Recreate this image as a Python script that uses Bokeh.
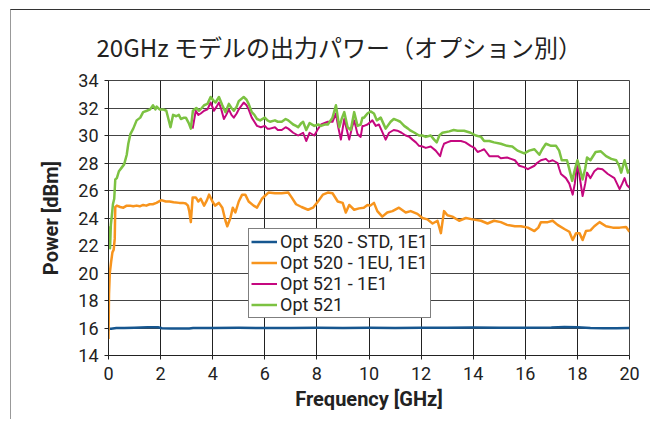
from bokeh.plotting import figure
from bokeh.models import Legend, LegendItem, FixedTicker, Range1d
from bokeh.embed import file_html
from bokeh.resources import INLINE

title_text = "20GHz モデルの出力パワー（オプション別）"
x_label = "Frequency [GHz]"
y_label = "Power [dBm]"
x_ticks = [0, 2, 4, 6, 8, 10, 12, 14, 16, 18, 20]
y_ticks = [14, 16, 18, 20, 22, 24, 26, 28, 30, 32, 34]

series_names = ["Opt 520 - STD, 1E1", "Opt 520 - 1EU, 1E1", "Opt 521 - 1E1", "Opt 521"]

blue_f = [0.00, 0.03, 0.10, 0.30, 0.60, 1.00, 1.50, 1.90, 2.05, 2.40, 2.80, 3.10, 3.25, 4.00, 5.00, 6.00,
          7.00, 8.00, 9.00, 10.00, 11.00, 12.00, 13.00, 14.00, 15.00, 16.00, 17.00, 17.50, 18.00,
          18.50, 19.00, 19.50, 20.00]
blue_v = [15.85, 15.95, 15.95, 16.0, 16.0, 16.02, 16.05, 16.06, 15.98, 15.97, 15.97, 15.96, 16.0, 16.0,
          16.01, 16.0, 16.0, 16.01, 16.0, 16.01, 16.0, 16.02, 16.01, 16.03, 16.02, 16.01, 16.03,
          16.07, 16.06, 16.0, 15.98, 15.99, 16.0]

orange_f = [0.00, 0.02, 0.05, 0.10, 0.15, 0.20, 0.24, 0.26, 0.32, 0.45, 0.57, 0.70, 0.82, 0.95, 1.08,
            1.20, 1.33, 1.45, 1.58, 1.70, 1.84, 2.03, 2.20, 2.34, 2.50, 2.72, 2.85, 2.97, 3.05, 3.10,
            3.16, 3.23, 3.35, 3.45, 3.54, 3.67, 3.78, 3.86, 3.99, 4.09, 4.24, 4.37, 4.49, 4.56, 4.68,
            4.77, 4.87, 5.00, 5.13, 5.25, 5.38, 5.57, 5.70, 5.89, 6.00, 6.14, 6.39, 6.65, 6.90, 7.03,
            7.20, 7.41, 7.66, 7.85, 8.04, 8.23, 8.42, 8.60, 8.80, 8.99, 9.11, 9.24, 9.43, 9.62, 9.80,
            9.94, 10.05, 10.19, 10.32, 10.51, 10.70, 10.90, 11.15, 11.41, 11.60, 11.86, 12.05, 12.24,
            12.44, 12.63, 12.76, 12.88, 13.01, 13.20, 13.46, 13.72, 13.97, 14.30, 14.55, 14.80, 15.06,
            15.30, 15.60, 15.83, 16.10, 16.35, 16.50, 16.60, 16.86, 17.05, 17.24, 17.50, 17.69, 17.82,
            17.95, 18.08, 18.20, 18.33, 18.50, 18.65, 18.85, 19.10, 19.36, 19.62, 19.87, 20.00]
orange_v = [15.2, 18.5, 20.0, 20.8, 21.5, 21.7, 22.5, 24.8, 24.9, 24.8, 24.75, 24.9, 24.9, 24.85, 24.9,
            24.85, 24.95, 24.9, 25.0, 25.0, 25.1, 25.3, 25.2, 25.2, 25.15, 25.1, 25.1, 25.05, 24.9, 24.5,
            23.7, 25.5, 25.5, 25.2, 25.4, 24.9, 25.3, 25.7, 25.2, 24.9, 25.1, 24.75, 23.8, 23.4, 24.0,
            24.75, 24.4, 25.2, 25.7, 25.7, 25.2, 24.9, 24.75, 25.4, 25.6, 25.85, 25.8, 25.8, 25.85, 25.5,
            25.0, 24.8, 24.6, 24.75, 25.2, 25.7, 25.85, 25.8, 25.2, 25.1, 24.4, 24.95, 24.6, 24.7, 24.75,
            24.95, 24.9, 25.1, 24.5, 24.1, 24.4, 24.5, 24.75, 24.4, 24.5, 24.3, 24.0, 23.9,
            23.6, 23.8, 22.9, 24.5, 24.2, 24.1, 23.8, 24.0, 23.9, 23.8, 23.6, 23.8, 23.7,
            23.5, 23.4, 23.4, 23.3, 23.05, 23.3, 23.7, 23.7, 23.8, 23.5, 23.2, 23.0, 22.4,
            22.9, 22.9, 22.4, 23.05, 23.1, 23.4, 23.7, 23.4, 23.3, 23.3, 23.35, 23.0]

magenta_f = [3.23, 3.35, 3.45, 3.54, 3.67, 3.80, 3.92, 4.05, 4.15, 4.24, 4.33, 4.43, 4.52, 4.62, 4.72,
             4.81, 4.92, 5.00, 5.19, 5.30, 5.38, 5.50, 5.60, 5.70, 5.85, 6.00, 6.10, 6.20, 6.39, 6.50,
             6.65, 6.80, 6.90, 7.09, 7.28, 7.47, 7.59, 7.72, 7.90, 8.05, 8.16, 8.42, 8.60, 8.73, 8.82,
             8.92, 9.05, 9.15, 9.24, 9.35, 9.43, 9.56, 9.68, 9.75, 9.81, 9.94, 10.13, 10.26, 10.38,
             10.50, 10.64, 10.77, 10.95, 11.09, 11.25, 11.41, 11.55, 11.67, 11.80, 11.92, 12.05, 12.18,
             12.37, 12.56, 12.73, 12.80, 12.88, 13.00, 13.14, 13.30, 13.53, 13.70, 13.90, 14.05, 14.17,
             14.30, 14.42, 14.62, 14.80, 14.95, 15.06, 15.30, 15.45, 15.60, 15.77, 15.95, 16.10, 16.35,
             16.45, 16.60, 16.79, 16.90, 17.05, 17.24, 17.30, 17.37, 17.56, 17.69, 17.82, 17.90, 17.99,
             18.07, 18.20, 18.30, 18.37, 18.50, 18.65, 18.78, 18.96, 19.17, 19.42, 19.52, 19.62, 19.72,
             19.81, 19.90, 20.00]
magenta_v = [30.5, 31.8, 31.5, 31.6, 31.8, 31.9, 32.4, 31.8, 32.1, 32.4, 31.9, 31.2, 31.5, 31.9, 31.5,
             31.3, 31.6, 31.9, 32.4, 32.2, 31.9, 31.3, 31.0, 30.7, 30.6, 30.7, 30.5, 30.5, 30.6, 30.4,
             30.4, 30.6, 30.5, 30.2, 30.0, 30.2, 29.6, 30.2, 30.0, 30.5, 30.8, 31.0, 31.0, 31.6, 30.6,
             29.7, 31.2, 30.4, 29.7, 30.6, 31.1, 30.1, 29.9, 30.7, 30.7, 30.8, 31.1, 30.7, 30.8,
             30.3, 29.7, 30.2, 30.4, 30.35, 30.2, 30.0, 29.9, 29.7, 29.5, 29.25, 29.2, 29.1,
             29.2, 28.9, 28.5, 29.0, 29.4, 29.5, 29.6, 29.6, 29.6, 29.5, 29.25, 29.1, 28.8,
             28.9, 29.0, 28.5, 28.5, 28.5, 28.35, 28.4, 28.3, 28.2, 27.8, 27.7, 27.55, 27.8,
             28.0, 28.2, 28.3, 28.1, 28.2, 28.0, 27.6, 27.2, 26.9, 26.5, 25.7, 26.5, 27.9,
             27.2, 25.6, 26.5, 27.3, 26.9, 27.4, 27.6, 27.55, 27.2, 26.9, 26.5, 26.1, 26.5,
             26.9, 26.4, 26.2]

green_f = [0.00, 0.03, 0.06, 0.09, 0.13, 0.17, 0.22, 0.26, 0.32, 0.40, 0.52, 0.60, 0.70, 0.76, 0.84,
           0.95, 1.08, 1.22, 1.33, 1.47, 1.60, 1.71, 1.80, 1.85, 1.96, 2.10, 2.22, 2.30, 2.38, 2.48,
           2.60, 2.70, 2.78, 2.90, 2.97, 3.08, 3.16, 3.24, 3.37, 3.48, 3.58, 3.67, 3.80, 3.92, 4.05,
           4.11, 4.24, 4.37, 4.49, 4.62, 4.72, 4.81, 4.92, 5.00, 5.19, 5.30, 5.38, 5.50, 5.60, 5.70,
           5.82, 6.00, 6.10, 6.20, 6.39, 6.50, 6.65, 6.80, 6.90, 7.09, 7.20, 7.28, 7.40, 7.47, 7.59,
           7.72, 7.90, 8.05, 8.16, 8.30, 8.42, 8.60, 8.73, 8.86, 8.95, 9.05, 9.18, 9.30, 9.43, 9.56,
           9.68, 9.75, 9.81, 9.94, 10.06, 10.19, 10.30, 10.45, 10.64, 10.83, 10.95, 11.09, 11.20,
           11.35, 11.50, 11.60, 11.75, 11.92, 12.05, 12.18, 12.37, 12.50, 12.60, 12.70, 12.82, 13.08,
           13.25, 13.40, 13.65, 13.90, 14.10, 14.30, 14.42, 14.62, 14.80, 15.06, 15.30, 15.50, 15.70,
           15.96, 16.15, 16.35, 16.54, 16.65, 16.79, 16.99, 17.18, 17.30, 17.40, 17.60, 17.67, 17.80,
           17.90, 18.00, 18.05, 18.20, 18.30, 18.37, 18.50, 18.70, 18.90, 19.10, 19.30, 19.49, 19.60,
           19.68, 19.81, 19.94, 20.00]
green_v = [22.0, 23.3, 21.8, 23.5, 24.2, 25.0, 25.4, 26.8, 26.9, 27.4, 27.7, 27.9, 28.6, 29.4, 30.1,
           30.5, 31.1, 31.3, 31.7, 31.8, 31.9, 32.2, 31.9, 32.1, 31.9, 31.9, 31.8, 31.2, 30.6, 31.5,
           31.4, 31.5, 31.2, 31.3, 31.3, 30.9, 30.5, 31.8, 32.0, 31.8, 32.0, 32.2, 32.3, 32.8, 32.5,
           32.4, 32.8, 32.2, 31.7, 32.3, 32.0, 31.8, 32.1, 32.5, 32.8, 32.6, 32.3, 31.7, 31.5, 31.2,
           31.1, 31.3, 31.1, 31.0, 31.1, 31.0, 31.0, 31.2, 31.1, 30.8, 30.7, 30.6, 30.9, 31.0, 30.4,
           30.9, 30.7, 30.8, 30.7, 30.8, 30.8, 31.3, 32.2, 30.6, 31.2, 31.7, 30.6, 30.4, 31.7, 30.7,
           30.8, 31.3, 31.3, 31.6, 31.75, 31.6, 31.1, 31.3, 30.5, 31.0, 31.2, 31.1, 31.0,
           30.7, 30.5, 30.35, 30.2, 30.0, 30.0, 29.9, 30.0, 29.7, 29.5, 30.0, 30.2, 30.3,
           30.4, 30.35, 30.35, 30.2, 30.0, 29.9, 29.6, 29.6, 29.5, 29.4, 29.25, 29.2, 28.9,
           28.7, 28.9, 29.0, 28.6, 29.0, 29.4, 29.25, 29.25, 28.9, 28.2, 28.2, 27.7, 26.7,
           27.5, 28.2, 27.9, 26.8, 27.6, 28.4, 28.2, 28.8, 28.85, 28.5, 28.3, 28.2, 27.8,
           27.3, 28.2, 27.3, 27.5]

colors = ["#16568f", "#f7941d", "#c5087f", "#7cc242"]
widths = [2.5, 2.5, 2.0, 2.5]

p = figure(width=640, height=410, output_backend="svg", toolbar_location=None,
           x_range=Range1d(x_ticks[0], x_ticks[-1]), y_range=Range1d(y_ticks[0], y_ticks[-1]),
           min_border_left=97, min_border_right=22, min_border_top=70, min_border_bottom=65,
           background_fill_color="white", border_fill_color="white")
p.styles = {"border-top": "1px solid #333", "border-left": "1px solid #999",
            "margin-left": "10px", "margin-top": "9px"}

p.title.text = title_text
p.title.text_font = "Noto Sans CJK JP"
p.title.text_font_size = "24px"
p.title.text_font_style = "normal"
p.title.text_color = "#222222"
p.title.align = "left"
p.title.offset = -12
p.title.standoff = 33

for ax, ticks in ((p.xaxis, x_ticks), (p.yaxis, y_ticks)):
    ax.ticker = FixedTicker(ticks=ticks)
    ax.major_label_text_font = "Roboto"
    ax.major_label_text_font_size = "18px"
    ax.major_label_text_color = "#222222"
    ax.axis_label_text_font = "Roboto"
    ax.axis_label_text_font_size = "20px"
    ax.axis_label_text_font_style = "bold"
    ax.axis_label_text_color = "#222222"
    ax.major_tick_out = 4
    ax.major_tick_in = 0
    ax.minor_tick_line_color = None
    ax.axis_line_color = "#222222"
    ax.major_tick_line_color = "#222222"

p.xaxis.axis_label = x_label
p.yaxis.axis_label = y_label
p.xaxis.major_label_standoff = 7
p.xaxis.axis_label_standoff = 4
p.yaxis.major_label_standoff = 6
p.yaxis.axis_label_standoff = 12

p.xgrid.grid_line_color = "#222222"
p.ygrid.grid_line_color = "#444444"
p.outline_line_color = "#444444"

data = [(blue_f, blue_v), (orange_f, orange_v), (magenta_f, magenta_v), (green_f, green_v)]
renderers = []
for (f, v), c, w in zip(data, colors, widths):
    renderers.append(p.line(f, v, line_color=c, line_width=w, line_join="round"))

legend = Legend(items=[LegendItem(label=n, renderers=[r]) for n, r in zip(series_names, renderers)],
                location=(140, 37))
legend.border_line_color = "black"
legend.border_line_width = 1
legend.background_fill_color = "white"
legend.background_fill_alpha = 1.0
legend.label_text_font = "Roboto"
legend.label_text_font_size = "18px"
legend.label_text_color = "#222222"
legend.glyph_width = 26
legend.glyph_height = 21
legend.label_height = 21
legend.label_standoff = 3
legend.spacing = 0
legend.padding = 2
legend.margin = 0
p.add_layout(legend)

open("out.html", "w").write(file_html(p, INLINE))
